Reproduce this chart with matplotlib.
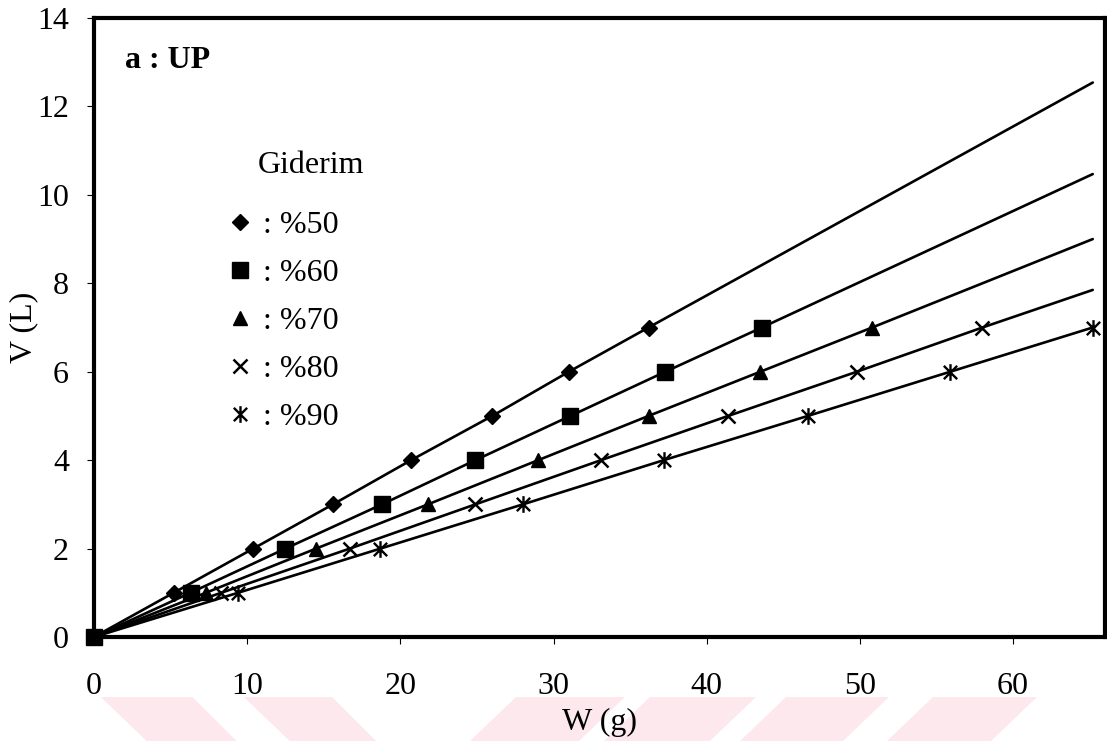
import matplotlib
matplotlib.use("Agg")
import matplotlib.pyplot as plt
from matplotlib.path import Path
from matplotlib.patches import Polygon
from matplotlib.lines import Line2D

# volume V (L) is the same step list for every series
V = [0, 1, 2, 3, 4, 5, 6, 7]

# W (g) needed for each removal level
W50 = [0, 5.2, 10.4, 15.6, 20.7, 26.0, 31.0, 36.2]
W60 = [0, 6.3, 12.5, 18.8, 24.9, 31.1, 37.3, 43.6]
W70 = [0, 7.3, 14.5, 21.8, 29.0, 36.2, 43.5, 50.8]
W80 = [0, 8.3, 16.7, 24.9, 33.1, 41.4, 49.8, 58.0]
W90 = [0, 9.4, 18.7, 28.0, 37.2, 46.6, 55.9, 65.2]

labels = [": %50", ": %60", ": %70", ": %80", ": %90"]

# where the fitted lines stop
W_END = 65.2
V_END = [12.54, 10.47, 9.0, 7.85, 6.97]

# asterisk = x with a vertical stroke
star = Path(
    [(-1, -1), (1, 1), (-1, 1), (1, -1), (0, -1.25), (0, 1.25)],
    [Path.MOVETO, Path.LINETO, Path.MOVETO, Path.LINETO, Path.MOVETO, Path.LINETO],
)

styles = [
    dict(marker="D", ms=8.5),
    dict(marker="s", ms=11),
    dict(marker="^", ms=10.5),
    dict(marker="x", ms=10.5, mew=1.8),
    dict(marker=star, ms=12, mew=1.7),
]

plt.rcParams["font.family"] = ["Liberation Serif", "DejaVu Serif"]
FS = 23

W_PX, H_PX = 1107, 741
fig = plt.figure(figsize=(W_PX / 100, H_PX / 100), dpi=100)
ax = fig.add_axes([94 / W_PX, 1 - 637 / H_PX, (1105 - 94) / W_PX, (637 - 18) / H_PX])

handles = []
for W, vend, st, lab in zip([W50, W60, W70, W80, W90], V_END, styles, labels):
    lx, ly = list(W), list(V)
    if lx[-1] < W_END:
        lx.append(W_END)
        ly.append(vend)
    ax.plot(lx, ly, color="black", lw=1.9, solid_capstyle="round", zorder=2)
    ax.plot(W, V, linestyle="none", color="black", mfc="black", mec="black",
            clip_on=False, zorder=3, **st)
    handles.append(Line2D([], [], linestyle="none", color="black", mfc="black",
                          mec="black", label=lab, **st))

ax.set_xlim(0, 66.0)
ax.set_ylim(0, 14)
ax.set_xticks(range(0, 70, 10))
ax.set_yticks(range(0, 16, 2))
ax.tick_params(direction="out", length=5, width=0.8, labelsize=FS)
ax.tick_params(axis="x", pad=20)
ax.tick_params(axis="y", pad=13)
for sp in ax.spines.values():
    sp.set_linewidth(3)

ax.set_xlabel("W (g)", fontsize=FS)
ax.set_ylabel("V (L)", fontsize=FS)
ax.xaxis.set_label_coords(0.5, -0.115)
ax.yaxis.set_label_coords(-0.055, 0.5)

ax.text(0.031, 0.932, "a : UP", transform=ax.transAxes, fontsize=FS,
        fontweight="bold", va="center", ha="left")
ax.text(0.162, 0.762, "Giderim", transform=ax.transAxes, fontsize=FS,
        va="center", ha="left")

ax.legend(handles=handles, loc="upper left", bbox_to_anchor=(0.1286, 0.688),
          frameon=False, fontsize=FS, handlelength=1.0, handletextpad=0.22,
          labelspacing=0.58, borderpad=0, borderaxespad=0)

# faint chevron band along the bottom edge
def px(pts):
    return [(x / W_PX, 1 - y / H_PX) for x, y in pts]

band = [
    [(100.7, 697), (192.5, 697), (236.7, 741), (146.6, 741)],
    [(243.8, 697), (332, 697), (376, 741), (289.7, 741)],
    [(516, 697), (625, 697), (579, 741), (470, 741)],
    [(650, 697), (756, 697), (710, 741), (604, 741)],
    [(786, 697), (889, 697), (843, 741), (740, 741)],
    [(933, 697), (1037, 697), (991, 741), (887, 741)],
]
for poly in band:
    fig.add_artist(Polygon(px(poly), closed=True, transform=fig.transFigure,
                           facecolor="#fde9ed", edgecolor="none", zorder=-1))

fig.savefig("out.png", dpi=100)
